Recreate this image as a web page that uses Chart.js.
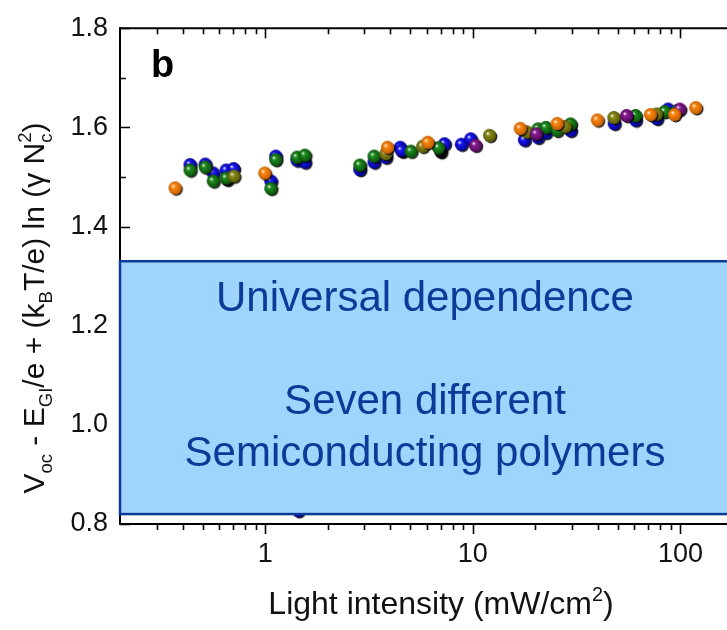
<!DOCTYPE html>
<html>
<head>
<meta charset="utf-8">
<script src="https://cdn.jsdelivr.net/npm/chart.js@4.4.1/dist/chart.umd.min.js"></script>
<style>
  html, body { margin: 0; padding: 0; background: #fff; overflow: hidden; width: 727px; height: 630px; }
  #chart { display: block; }
</style>
</head>
<body>
<canvas id="chart" width="750" height="630"></canvas>
<script>
// light intensity (mW/cm2) vs corrected Voc, one list per polymer colour
const seriesOrange = [[0.37, 1.477], [1.0, 1.507], [3.9, 1.559], [6.1, 1.569], [17, 1.597], [25.6, 1.607], [40, 1.614], [72, 1.625], [94, 1.625], [119, 1.639]];
const seriesPurple = [[10.35, 1.563], [20.3, 1.586], [55.3, 1.623], [99.7, 1.636]];
const seriesOlive = [[0.71, 1.501], [3.83, 1.546], [5.76, 1.561], [12.1, 1.583], [18.3, 1.590], [28, 1.601], [48, 1.619], [77, 1.626]];
const seriesGreen = [[0.437, 1.513], [0.517, 1.519], [0.565, 1.491], [0.652, 1.497], [1.07, 1.476], [1.13, 1.534], [1.43, 1.539], [1.56, 1.543], [2.87, 1.523], [3.36, 1.541], [5.06, 1.551], [6.87, 1.558], [20.7, 1.596], [22.6, 1.599], [25.6, 1.593], [29.7, 1.606], [61, 1.623], [84.3, 1.631], [96.7, 1.633]];
const seriesBlue = [[0.437, 1.524], [0.517, 1.525], [0.565, 1.507], [0.652, 1.513], [0.708, 1.516], [1.07, 1.491], [1.13, 1.541], [1.43, 1.533], [1.45, 0.826], [1.56, 1.529], [2.87, 1.514], [3.36, 1.529], [3.83, 1.539], [4.49, 1.559], [4.55, 1.553], [7.34, 1.566], [8.85, 1.565], [9.82, 1.576], [17.8, 1.574], [20.7, 1.579], [22.6, 1.589], [29.7, 1.593], [48.2, 1.607], [61, 1.614], [77.3, 1.617], [87.5, 1.636]];
const seriesBlack = [[0.66, 1.494], [4.6, 1.551], [7.05, 1.550]];

const xMajorTicks = [1, 10, 100];
const xMinorTicks = [0.3, 0.4, 0.5, 0.6, 0.7, 0.8, 0.9, 2, 3, 4, 5, 6, 7, 8, 9, 20, 30, 40, 50, 60, 70, 80, 90];
const yMajorTicks = [0.8, 1.0, 1.2, 1.4, 1.6, 1.8];
const yMinorTicks = [0.9, 1.1, 1.3, 1.5, 1.7];

// shaded box ("Universal dependence"), in y data units
const boxRange = [0.82, 1.33];
const boxLines = ["Universal dependence", "", "Seven different", "Semiconducting polymers"];

const FONT = "'Liberation Sans', Arial, sans-serif";
const BOX_BLUE = '#0b3a98';

// little shaded ball used as point marker
function sphere(color, dark) {
    const c = document.createElement('canvas');
    c.width = 18; c.height = 18;
    const g = c.getContext('2d');
    g.fillStyle = 'rgba(0,0,0,0.85)';
    g.beginPath(); g.arc(10, 10, 6.4, 0, Math.PI * 2); g.fill();
    const grad = g.createRadialGradient(6.5, 6.5, 0.3, 8.6, 8.6, 6.8);
    grad.addColorStop(0, 'rgba(255,255,255,0.95)');
    grad.addColorStop(0.25, color);
    grad.addColorStop(1, dark);
    g.fillStyle = grad;
    g.beginPath(); g.arc(8.6, 8.6, 6.6, 0, Math.PI * 2); g.fill();
    return c;
}

function makeSet(pairs, color, dark) {
    return {
        data: pairs.map(p => ({ x: p[0], y: p[1] })),
        pointStyle: sphere(color, dark),
        pointRadius: 6,
        showLine: false
    };
}

// text with sub/superscripts, drawn left to right from the centre
function richText(ctx, parts, size) {
    const small = size * 0.62;
    let w = 0;
    parts.forEach(p => {
        ctx.font = (p.k ? small : size) + 'px ' + FONT;
        if (p.k === 'subsup') {
            p.w = Math.max(ctx.measureText(p.t).width, ctx.measureText(p.s).width);
        } else {
            p.w = ctx.measureText(p.t).width;
        }
        w += p.w;
    });
    let x = -w / 2;
    parts.forEach(p => {
        ctx.font = (p.k ? small : size) + 'px ' + FONT;
        if (p.k === 'sub') ctx.fillText(p.t, x, size * 0.28);
        else if (p.k === 'sup') ctx.fillText(p.t, x, -size * 0.42);
        else if (p.k === 'subsup') {
            ctx.fillText(p.t, x, size * 0.28);
            ctx.fillText(p.s, x, -size * 0.42);
        } else ctx.fillText(p.t, x, 0);
        x += p.w;
    });
}

const yTitle = [
    { t: 'V' }, { t: 'oc', k: 'sub' }, { t: ' - E' }, { t: 'GI', k: 'sub' },
    { t: '/e + (k' }, { t: 'B', k: 'sub' }, { t: 'T/e) ln (' }, { t: '\u03b3 ' },
    { t: 'N' }, { t: 'c', s: '2', k: 'subsup' }, { t: ')' }
];
const xTitle = [{ t: 'Light intensity (mW/cm' }, { t: '2', k: 'sup' }, { t: ')' }];

const decorPlugin = {
    id: 'decor',
    beforeDatasetsDraw(chart) {
        const ctx = chart.ctx, a = chart.chartArea;
        const xs = chart.scales.x, ys = chart.scales.y;
        ctx.save();
        ctx.strokeStyle = '#000';
        ctx.lineWidth = 2;
        ctx.beginPath();
        ctx.moveTo(a.left - 1, a.top); ctx.lineTo(a.right + 2, a.top);
        ctx.stroke();
        ctx.lineWidth = 1.6;
        ctx.beginPath();
        xMajorTicks.concat(xMinorTicks).forEach(v => {
            const px = Math.round(xs.getPixelForValue(v)) + 0.5;
            const len = xMajorTicks.includes(v) ? 10 : 6;
            ctx.moveTo(px, a.bottom); ctx.lineTo(px, a.bottom + len);
            ctx.moveTo(px, a.top); ctx.lineTo(px, a.top + len);
        });
        yMajorTicks.concat(yMinorTicks).forEach(v => {
            const py = Math.round(ys.getPixelForValue(v)) + 0.5;
            const len = yMajorTicks.includes(v) ? 10 : 6;
            ctx.moveTo(a.left, py); ctx.lineTo(a.left + len, py);
        });
        ctx.stroke();
        ctx.restore();
    },
    afterDatasetsDraw(chart) {
        const ctx = chart.ctx, a = chart.chartArea;
        const ys = chart.scales.y;
        const top = ys.getPixelForValue(boxRange[1]);
        const bot = ys.getPixelForValue(boxRange[0]);
        ctx.save();
        ctx.fillStyle = '#9fd4fc';
        ctx.fillRect(a.left, top, a.right - a.left + 20, bot - top);
        ctx.strokeStyle = BOX_BLUE;
        ctx.lineWidth = 2.5;
        ctx.strokeRect(a.left, top, a.right - a.left + 30, bot - top);
        ctx.fillStyle = BOX_BLUE;
        ctx.font = '42px ' + FONT;
        ctx.textAlign = 'center';
        ctx.textBaseline = 'alphabetic';
        const cx = a.left + 305;
        boxLines.forEach((s, i) => {
            if (s) ctx.fillText(s, cx, top + 50 + i * 51.5);
        });
        ctx.restore();
    },
    afterDraw(chart) {
        const ctx = chart.ctx, a = chart.chartArea;
        ctx.save();
        ctx.fillStyle = '#000';
        ctx.textAlign = 'left';
        ctx.textBaseline = 'alphabetic';
        ctx.font = 'bold 38px ' + FONT;
        ctx.fillText('b', a.left + 31, a.top + 49);

        ctx.fillStyle = '#111';
        ctx.save();
        ctx.translate(44, 308);
        ctx.rotate(-Math.PI / 2);
        richText(ctx, yTitle, 30);
        ctx.restore();

        ctx.save();
        ctx.translate(441, 614);
        richText(ctx, xTitle, 32);
        ctx.restore();
        ctx.restore();
    }
};

new Chart(document.getElementById('chart'), {
    type: 'scatter',
    data: {
        datasets: [
            makeSet(seriesOrange, '#ff8a12', '#c05a00'),
            makeSet(seriesPurple, '#8e1e96', '#4e0656'),
            makeSet(seriesOlive, '#8f8f1c', '#525206'),
            makeSet(seriesGreen, '#1f8f1f', '#0a4a0a'),
            makeSet(seriesBlue, '#1a1aff', '#00008a'),
            makeSet(seriesBlack, '#222222', '#000000')
        ]
    },
    options: {
        responsive: false,
        animation: false,
        devicePixelRatio: 1,
        layout: { padding: { top: 23, left: 0, right: 0, bottom: 0 } },
        plugins: { legend: { display: false }, tooltip: { enabled: false } },
        scales: {
            x: {
                type: 'logarithmic',
                min: 0.2,
                max: 200,
                grid: { display: false, drawTicks: false, tickLength: 0 },
                border: { display: true, color: '#000', width: 2 },
                afterBuildTicks: s => { s.ticks = xMajorTicks.map(v => ({ value: v })); },
                afterFit: s => { s.height = 106; },
                ticks: {
                    autoSkip: false,
                    maxRotation: 0,
                    padding: 14,
                    color: '#111',
                    font: { family: FONT, size: 27 },
                    callback: v => String(v)
                }
            },
            y: {
                min: 0.8,
                max: 1.8,
                grid: { display: false, drawTicks: false, tickLength: 0 },
                border: { display: true, color: '#000', width: 2 },
                afterBuildTicks: s => { s.ticks = yMajorTicks.map(v => ({ value: v })); },
                afterFit: s => { s.width = 120; },
                ticks: {
                    padding: 12,
                    color: '#111',
                    font: { family: FONT, size: 27 },
                    callback: v => v.toFixed(1)
                }
            }
        }
    },
    plugins: [decorPlugin]
});
</script>
</body>
</html>
